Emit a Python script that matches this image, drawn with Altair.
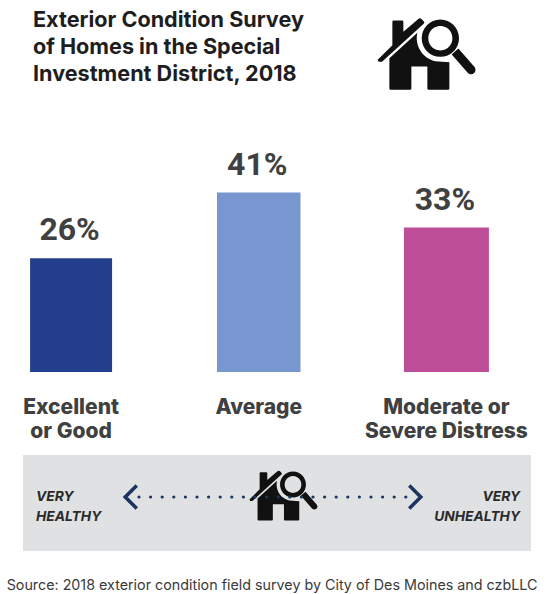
import re
import altair as alt
import pandas as pd

# Survey results
categories = ["Excellent\nor Good", "Average", "Moderate or\nSevere Distress"]
shares = [26, 41, 33]
share_labels = ["26%", "41%", "33%"]
bar_colors = ["#233E8C", "#7896CF", "#BF4E98"]
bar_widths = [82, 85, 85]

title_text = "Exterior Condition Survey\nof Homes in the Special\nInvestment District, 2018"
source_text = "Source: 2018 exterior condition field survey by City of Des Moines and czbLLC"
left_scale_text = "VERY\nHEALTHY"
right_scale_text = "VERY\nUNHEALTHY"

FONT = "Inter"
INK = "#1E1E1E"
LABEL = "#404040"
NAVY = "#1B3560"
PANEL = "#E0E1E3"

# House-and-magnifier glyph, drawn on a 290-unit grid and normalised for use as a symbol
ICON = (
    "M113 180 L157 136 L157 66 Q157 62 161 62 L186 62 Q190 62 190 66 L190 96 L234 58 "
    "Q240 53 245 58 L251 64 Q255 68 251 72 L126 186 L116 186 Z "
    "M148 175 L232 99 A71 71 0 0 0 285 184 L328 187 L328 266 Q328 270 324 270 L266 270 "
    "Q262 270 262 266 L262 200 L214 200 L214 266 Q214 270 210 270 L152 270 Q148 270 148 266 Z "
    "M245 115 A56 56 0 1 1 357 115 A56 56 0 1 1 245 115 Z "
    "M265 115 A36 36 0 1 0 337 115 A36 36 0 1 0 265 115 Z "
    "M335 164 L355 146 L403 201 A13 13 0 0 1 383 219 Z"
)


def normalise(path, cx=260.0, cy=162.5, half=145.0):
    out = []
    for tok in re.findall(r"[A-Z]|[^A-Z]+", path):
        if tok.isalpha():
            out.append(tok)
            cmd = tok
            continue
        n = [float(v) for v in tok.split()]
        if cmd == "A":
            n = [n[0] / half, n[1] / half, n[2], n[3], n[4], (n[5] - cx) / half, (n[6] - cy) / half]
        else:
            n = [(v - cx) / half if i % 2 == 0 else (v - cy) / half for i, v in enumerate(n)]
        out.append(" ".join(f"{v:.4f}".rstrip("0").rstrip(".") for v in n))
    return " ".join(out)


icon_path = normalise(ICON)
left_chevron = "M0.5 -1 L-0.5 0 L0.5 1"
right_chevron = "M-0.5 -1 L0.5 0 L-0.5 1"

bars_df = pd.DataFrame(
    {"category": categories, "share": shares, "label": share_labels}
)
x_scale = alt.Scale(domain=categories, range=[-22.75, 540.25], paddingInner=0, paddingOuter=0)
y_scale = alt.Scale(domain=[0, 85], range=[372, 0])
x_enc = alt.X("category:N", scale=x_scale, axis=None, sort=categories)

bars = (
    alt.Chart(bars_df)
    .mark_bar()
    .encode(
        x=x_enc,
        y=alt.Y("share:Q", scale=y_scale, axis=None),
        color=alt.Color("category:N", scale=alt.Scale(domain=categories, range=bar_colors), legend=None),
        size=alt.Size("category:N", scale=alt.Scale(domain=categories, range=bar_widths), legend=None),
    )
)
share_text = (
    alt.Chart(bars_df)
    .mark_text(font="Roboto", fontWeight="bold", fontSize=32, color=LABEL, baseline="alphabetic",
               dy=-18, dx=-1.5)
    .encode(x=x_enc, y=alt.Y("share:Q", scale=y_scale, axis=None), text="label:N")
)
category_text = (
    alt.Chart(bars_df)
    .mark_text(font=FONT, fontWeight=800, fontSize=21, color=LABEL, baseline="alphabetic",
               lineBreak="\n", lineHeight=24)
    .encode(x=x_enc, y=alt.value(414), text="category:N")
)


def note(text, x, y, **style):
    return (
        alt.Chart(pd.DataFrame({"t": [text]}))
        .mark_text(baseline="alphabetic", lineBreak="\n", **style)
        .encode(x=alt.value(x), y=alt.value(y), text="t:N")
    )


def glyph(path, x, y, size, **style):
    return (
        alt.Chart(pd.DataFrame({"g": [path]}))
        .mark_point(shape=path, size=size, **style)
        .encode(x=alt.value(x), y=alt.value(y))
    )


panel = (
    alt.Chart(pd.DataFrame({"p": [1]}))
    .mark_rect(color=PANEL)
    .encode(x=alt.value(23), x2=alt.value(531), y=alt.value(455), y2=alt.value(551))
)
dots = (
    alt.Chart(pd.DataFrame({"p": [1]}))
    .mark_rule(color=NAVY, strokeWidth=3.2, strokeCap="round", strokeDash=[0, 11.6])
    .encode(x=alt.value(139), x2=alt.value(406), y=alt.value(497))
)

chart = (
    alt.layer(
        panel,
        bars,
        share_text,
        category_text,
        note(title_text, 33, 27, font=FONT, fontWeight="bold", fontSize=21.6, color=INK,
             align="left", lineHeight=27),
        note(source_text, 272, 590, font=FONT, fontSize=14.3, color="#3A3A3A", align="center"),
        note(left_scale_text, 36, 501, font=FONT, fontWeight="bold", fontStyle="italic", fontSize=13.8,
             color="#2A2A2A", align="left", lineHeight=20),
        note(right_scale_text, 520, 501, font=FONT, fontWeight="bold", fontStyle="italic", fontSize=13.8,
             color="#2A2A2A", align="right", lineHeight=20),
        glyph(icon_path, 426.7, 54, 9344, filled=True, color="#111111", opacity=1, strokeWidth=0),
        glyph(icon_path, 283.5, 495.5, 4515, filled=True, color="#111111", opacity=1, strokeWidth=0),
        dots,
        glyph(left_chevron, 131, 497, 529, filled=False, color=NAVY, opacity=1, strokeWidth=3.6),
        glyph(right_chevron, 415, 497, 529, filled=False, color=NAVY, opacity=1, strokeWidth=3.6),
    )
    .properties(width=556, height=594, padding=0, autosize=alt.AutoSizeParams(type="none"), background="white")
    .configure_view(stroke=None)
)

chart.save("out.html", embed_options={"renderer": "svg", "actions": False})
